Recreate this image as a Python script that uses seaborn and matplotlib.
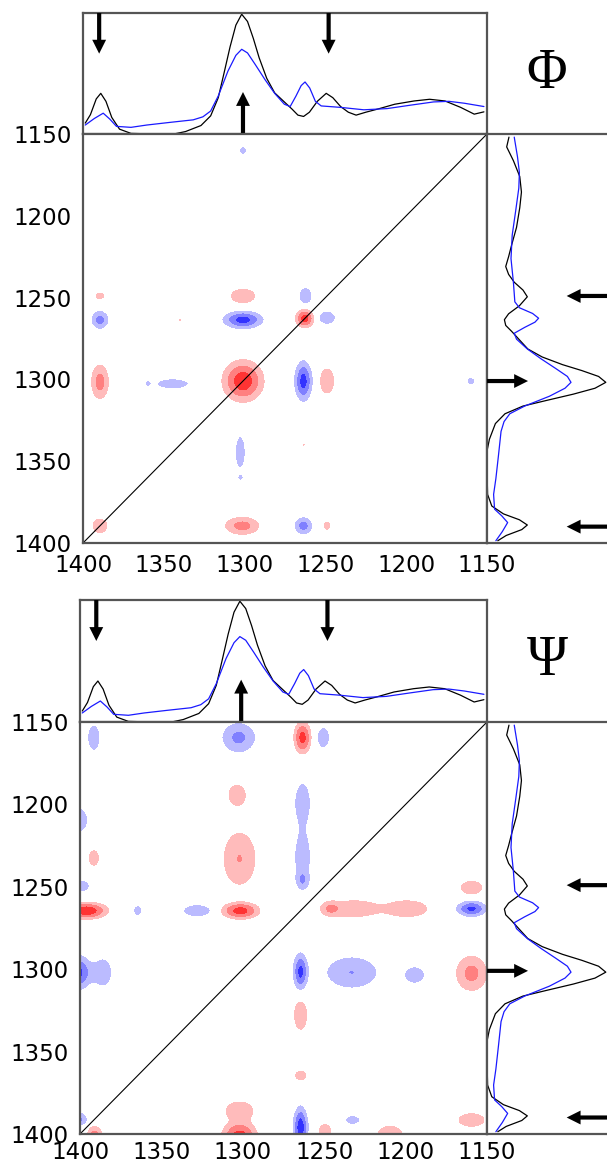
import numpy as np
import matplotlib
matplotlib.use('Agg')
import matplotlib.pyplot as plt
import seaborn as sns

# 1D spectra (wavenumber, normalised intensity), same in both panels
spec_wn_black = [1398.6, 1395.4, 1391.8, 1389.0, 1385.8, 1382.2, 1377.4, 1370.3, 1355.8, 1343.8,
                 1336.6, 1327.0, 1321.0, 1316.3, 1312.7, 1309.0, 1305.4, 1301.8, 1298.2, 1294.6,
                 1291.0, 1286.3, 1281.4, 1275.4, 1270.6, 1267.0, 1263.5, 1259.9, 1255.0, 1249.5,
                 1245.4, 1240.6, 1235.8, 1231.0, 1225.0, 1217.9, 1207.1, 1195.1, 1185.5, 1176.0,
                 1166.3, 1157.9, 1151.9]
spec_black = [0.09, 0.16, 0.29, 0.336, 0.27, 0.137, 0.04, 0.005, 0.0, 0.0,
              0.02, 0.07, 0.15, 0.30, 0.505, 0.72, 0.90, 0.99, 0.93, 0.79,
              0.63, 0.46, 0.34, 0.265, 0.205, 0.156, 0.145, 0.18, 0.27, 0.336,
              0.30, 0.227, 0.18, 0.156, 0.18, 0.205, 0.246, 0.273, 0.287, 0.273,
              0.22, 0.164, 0.183]
spec_wn_blue = [1398.6, 1393.0, 1387.5, 1383.4, 1379.3, 1370.3, 1360.6, 1346.2, 1331.8, 1325.8,
                1321.0, 1316.3, 1310.3, 1305.4, 1301.8, 1298.2, 1293.4, 1287.4, 1281.4, 1275.4,
                1271.8, 1268.2, 1265.0, 1262.6, 1259.7, 1256.2, 1252.6, 1240.6, 1226.2, 1211.8,
                1197.5, 1183.1, 1173.5, 1163.9, 1151.9]
spec_blue = [0.074, 0.128, 0.172, 0.123, 0.063, 0.055, 0.074, 0.096, 0.117, 0.142,
             0.19, 0.314, 0.52, 0.65, 0.70, 0.67, 0.574, 0.45, 0.336, 0.246,
             0.227, 0.314, 0.40, 0.43, 0.38, 0.27, 0.232, 0.22, 0.20, 0.21,
             0.238, 0.265, 0.27, 0.254, 0.227]

# arrow marks (wavenumbers)
arrows_top_down = [1390, 1248]
arrows_top_up = [1301]
arrows_side_left = [1249, 1390]
arrows_side_right = [1301]

# synchronous map: diagonal (auto) peaks
phi_diag_wn = [1301, 1262.7, 1389.5]
phi_diag_amp = [0.85, 0.75, 0.2]
phi_diag_sx = [6.3, 2.9, 3.6]
phi_diag_sy = [6.3, 2.9, 3.4]
# synchronous cross peaks above the diagonal (mirrored symmetrically)
phi_x = [1301, 1389.5, 1389.5, 1389.5, 1344.5, 1360, 1301, 1301, 1262.3, 1262, 1340]
phi_y = [1160, 1249, 1263.6, 1301.5, 1302.7, 1302.5, 1249, 1263.6, 1249, 1208, 1263.5]
phi_amp = [-0.15, 0.15, -0.45, 0.4, -0.18, -0.12, 0.2, -0.8, -0.2, -0.12, 0.11]
phi_sx = [2.4, 2.4, 3.2, 3.1, 8.9, 1.5, 6.1, 6.4, 3.4, 0.8, 1.0]
phi_sy = [2.7, 1.8, 3.3, 6.1, 2.8, 1.5, 3.4, 3.0, 4.4, 3.5, 1.0]

# asynchronous cross peaks above the diagonal (mirrored antisymmetrically)
psi_x = [1391.5, 1302.5, 1263.3, 1250.5, 1303.5, 1302, 1401, 1391.5, 1399, 1396,
         1364.5, 1328, 1301.5, 1263.3, 1263.3, 1263.3, 1402, 1386, 1400.5]
psi_y = [1159.5, 1159.5, 1159.5, 1159.5, 1194.5, 1233, 1209.5, 1232.5, 1249.5, 1264.5,
         1264.5, 1264.5, 1264.5, 1199, 1232, 1246, 1302, 1302, 1391]
psi_amp = [-0.2, -0.38, 0.72, -0.2, 0.2, 0.305, -0.22, 0.18, -0.2, 0.9,
           -0.15, -0.2, 0.75, -0.2, -0.22, -0.3, -0.8, -0.25, -0.4]
psi_sx = [3.2, 6.3, 2.7, 3.2, 4.2, 6.3, 4.5, 2.5, 4.0, 6.5,
          2.8, 7.1, 6.0, 4.0, 3.8, 2.5, 5.0, 4.0, 3.0]
psi_sy = [6.5, 5.6, 5.0, 5.2, 5.1, 10.3, 6.0, 4.0, 3.0, 2.5,
          3.4, 3.1, 2.6, 10.0, 11.0, 3.5, 5.5, 6.0, 2.6]

ticks = [1400, 1350, 1300, 1250, 1200, 1150]
levels = [-5, -0.6, -0.3, -0.1, 0.1, 0.3, 0.6, 5]
fill_colors = ['#3333ff', '#8080ff', '#bbbbff', 'white', '#ffbbbb', '#ff8080', '#ff3333']

W, H = 607, 1166
grid = np.arange(1150, 1400.01, 0.5)
GX, GY = np.meshgrid(grid, grid)


def peak(x0, y0, a, sx, sy):
    return a * np.exp(-((GX - x0) ** 2 / (2 * sx ** 2) + (GY - y0) ** 2 / (2 * sy ** 2)))


def build_map(xs, ys, amps, sxs, sys_, sign):
    z = np.zeros_like(GX)
    for x0, y0, a, sx, sy in zip(xs, ys, amps, sxs, sys_):
        z += peak(x0, y0, a, sx, sy)
        z += peak(y0, x0, sign * a, sy, sx)
    return z


phi_map = build_map(phi_x, phi_y, phi_amp, phi_sx, phi_sy, 1)
for w0, a, sx, sy in zip(phi_diag_wn, phi_diag_amp, phi_diag_sx, phi_diag_sy):
    phi_map += peak(w0, w0, a, sx, sy)
psi_map = build_map(psi_x, psi_y, psi_amp, psi_sx, psi_sy, -1)

sns.set_style('white')
plt.rcParams['font.family'] = ['DejaVu Sans']
plt.rcParams['text.color'] = 'black'
plt.rcParams['xtick.color'] = 'black'
plt.rcParams['ytick.color'] = 'black'

fig = plt.figure(figsize=(W / 100, H / 100), dpi=100)


def px_axes(x0, x1, y0, y1):
    return fig.add_axes([x0 / W, 1 - y1 / H, (x1 - x0) / W, (y1 - y0) / H])


def style_spines(ax, hide=()):
    for name, sp in ax.spines.items():
        sp.set_color('#555555')
        sp.set_linewidth(1.6)
        sp.set_visible(name not in hide)


def arrow(ax, tip, tail):
    ax.annotate('', xy=tip, xytext=tail,
                arrowprops=dict(arrowstyle='simple,head_length=0.5,head_width=0.5,tail_width=0.15',
                                fc='black', ec='none', mutation_scale=20, shrinkA=0, shrinkB=0))


def draw_panel(left, right, top, mid, bottom, zmap, label, xpad):
    ax_top = px_axes(left, right, top, mid)
    ax_map = px_axes(left, right, mid, bottom)
    ax_side = px_axes(right, W, mid, bottom)

    # top spectrum
    sns.lineplot(x=spec_wn_black, y=spec_black, ax=ax_top, color='black', lw=0.9,
                 estimator=None, sort=False)
    sns.lineplot(x=spec_wn_blue, y=spec_blue, ax=ax_top, color='#1a1aff', lw=0.9,
                 estimator=None, sort=False)
    ax_top.set_xlim(1400, 1150)
    ax_top.set_ylim(0, 1.0)
    ax_top.set_xticks([])
    ax_top.set_yticks([])
    ax_top.set_xlabel('')
    ax_top.set_ylabel('')
    style_spines(ax_top)
    for wn in arrows_top_down:
        arrow(ax_top, (wn, 0.664), (wn, 1.0))
    for wn in arrows_top_up:
        arrow(ax_top, (wn, 0.347), (wn, 0.0))

    # side spectrum
    sns.lineplot(x=spec_black, y=spec_wn_black, ax=ax_side, color='black', lw=0.9,
                 estimator=None, sort=False, orient='y')
    sns.lineplot(x=spec_blue, y=spec_wn_blue, ax=ax_side, color='#1a1aff', lw=0.9,
                 estimator=None, sort=False, orient='y')
    ax_side.set_ylim(1400, 1150)
    ax_side.set_xlim(0, 1.0)
    ax_side.set_xticks([])
    ax_side.set_yticks([])
    ax_side.set_xlabel('')
    ax_side.set_ylabel('')
    style_spines(ax_side, hide=('right',))
    for wn in arrows_side_left:
        arrow(ax_side, (0.664, wn), (1.0, wn))
    for wn in arrows_side_right:
        arrow(ax_side, (0.342, wn), (0.0, wn))

    # 2D correlation map
    ax_map.contourf(grid, grid, zmap, levels=levels, colors=fill_colors)
    ax_map.plot([1400, 1150], [1400, 1150], color='black', lw=0.8)
    ax_map.set_xlim(1400, 1150)
    ax_map.set_ylim(1400, 1150)
    ax_map.set_xticks(ticks)
    ax_map.set_yticks(ticks)
    ax_map.tick_params(direction='in', length=18, width=0.8, color='black',
                       labelcolor='black', labelsize=16.5, top=False, right=False)
    ax_map.tick_params(axis='x', pad=xpad)
    ax_map.tick_params(axis='y', pad=8)
    for axis in (ax_map.xaxis, ax_map.yaxis):
        tk = axis.get_major_ticks()
        tk[0].tick1line.set_visible(False)
        tk[-1].tick1line.set_visible(False)
    style_spines(ax_map)

    fig.text((right + W) / 2 / W, 1 - (top + mid) / 2 / H, label, ha='center', va='center',
             fontsize=40, color='black', family=['Liberation Serif', 'DejaVu Serif'])


draw_panel(83, 487, 13, 134, 543, phi_map, 'Φ', 8)
draw_panel(80, 487, 600, 722, 1134, psi_map, 'Ψ', 5)

fig.savefig('out.png', dpi=100)
